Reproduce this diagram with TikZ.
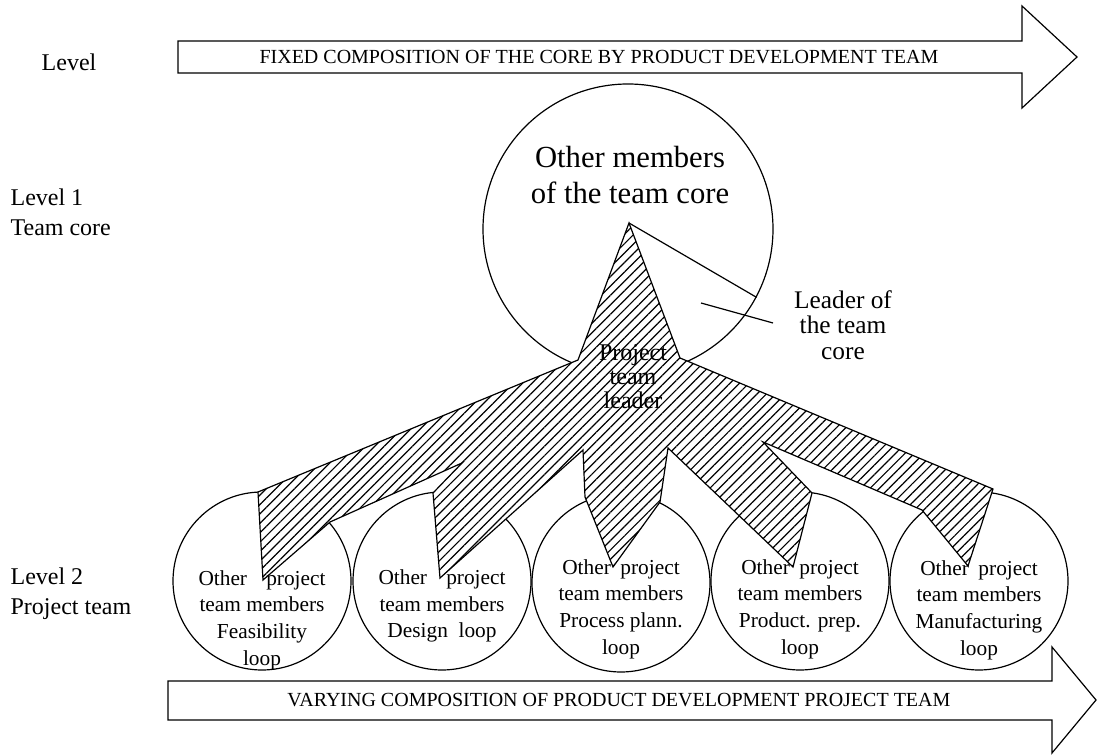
\documentclass[tikz,border=0pt]{standalone}
\usepackage{fontspec}
\setmainfont{Liberation Serif}
\usetikzlibrary{patterns.meta}

\begin{document}
\begin{tikzpicture}[x=0.75pt, y=-0.75pt, line width=0.9pt, line join=miter,
    teamcircle/.style={draw, circle, minimum size=133.5pt, inner sep=0pt},
    members/.style={align=center, inner sep=0pt, font=\fontsize{16}{20}\selectfont},
    levellabel/.style={anchor=west, align=left, inner sep=0pt, font=\fontsize{18}{22.5}\selectfont},
    banner/.style={inner sep=0pt, font=\fontsize{15}{18}\selectfont},
    hatch/.style={pattern={Lines[angle=45, distance=5pt, line width=0.9pt]}}]
    \useasboundingbox (0,0) rectangle (1097,755);

    % levels on the left
    \node (lvl0) [font=\fontsize{18}{22.5}\selectfont] at (69,62) {Level};
    \node (lvl1) [levellabel] at (10,212) {Level 1\\Team core};
    \node (lvl2) [levellabel] at (10,594) {Level 2\\Project team};

    % fixed core arrow
    \draw (178,41) -- (1022,41) -- (1022,6) -- (1077,57) -- (1022,108) -- (1022,73) -- (178,73) -- cycle;
    \node (fixed) [banner] at (599,57) {FIXED COMPOSITION OF THE CORE BY PRODUCT DEVELOPMENT TEAM};

    % team core
    \node (core) [draw, circle, minimum size=217.5pt, inner sep=0pt] at (628,229) {};
    \node (coretxt) [align=center, font=\fontsize{23}{27}\selectfont] at (630,175) {Other members\\of the team core};
    \coordinate (apex) at (629,223);
    \draw (apex) -- (core.-28);

    % project team circles
    \foreach \x/\y [count=\i] in {262/581, 442/581, 621/583, 800/581, 979/581}
        \node (team\i) [teamcircle] at (\x,\y) {};

    % project team leader
    \draw[hatch, preaction={fill=white}] (apex) -- (680,358) -- (993,489) -- (968,566) -- (922,510)
        -- (763,442) -- (812,493) -- (793,567) -- (668,448) -- (660,502) -- (613,567)
        -- (585,497) -- (583,450) -- (440,578) -- (433,493) -- (462,463) -- (330,522)
        -- (263,580) -- (258,492) -- (578,360) -- cycle;
    \node (ptl) [align=center, inner sep=0pt, font=\fontsize{18}{18}\selectfont] at (633,377) {Project\\team\\leader};

    \node (leadtxt) [align=center, font=\fontsize{19}{19}\selectfont] at (843,325) {Leader of\\the team\\core};
    \coordinate (leadmark) at (701,303);
    \coordinate (leadtip) at (773,323);
    \draw (leadmark) -- (leadtip);

    \node [members] at ([yshift=-29.25pt]team1.center) {Other\hspace{0.9em}project\\team members\\Feasibility\\loop};
    \node [members] at ([yshift=-18.75pt]team2.center) {Other\hspace{0.9em}project\\team members\\Design\ \ loop};
    \node [members] at ([yshift=-19.5pt]team3.center) {Other\hspace{0.45em}project\\team members\\Process plann.\\loop};
    \node [members] at ([yshift=-21pt]team4.center) {Other\hspace{0.45em}project\\team members\\Product. prep.\\loop};
    \node [members] at ([yshift=-21.75pt]team5.center) {Other\hspace{0.45em}project\\team members\\Manufacturing\\loop};

    % varying project team arrow
    \draw (168,681) -- (1052,681) -- (1052,647) -- (1096,700) -- (1052,753) -- (1052,720) -- (168,720) -- cycle;
    \node (varying) [banner] at (619,700) {VARYING COMPOSITION OF PRODUCT DEVELOPMENT PROJECT TEAM};
\end{tikzpicture}
\end{document}
